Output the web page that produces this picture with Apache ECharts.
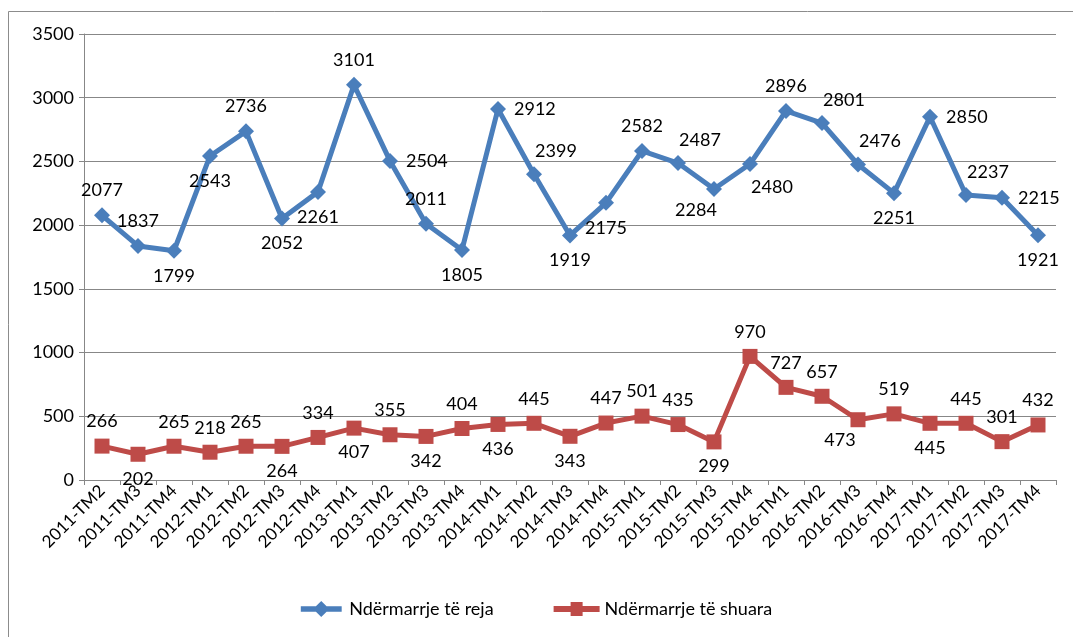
<!DOCTYPE html>
<html>
<head>
<meta charset="utf-8">
<script src="https://cdn.jsdelivr.net/npm/echarts@6/dist/echarts.min.js"></script>
<style>html,body{margin:0;padding:0;background:#fff}#c{width:1073px;height:637px}</style>
</head>
<body>
<div id="c"></div>
<script>
const categories = ['2011-TM2','2011-TM3','2011-TM4','2012-TM1','2012-TM2','2012-TM3','2012-TM4','2013-TM1','2013-TM2','2013-TM3','2013-TM4','2014-TM1','2014-TM2','2014-TM3','2014-TM4','2015-TM1','2015-TM2','2015-TM3','2015-TM4','2016-TM1','2016-TM2','2016-TM3','2016-TM4','2017-TM1','2017-TM2','2017-TM3','2017-TM4'];
const newFirms = [2077,1837,1799,2543,2736,2052,2261,3101,2504,2011,1805,2912,2399,1919,2175,2582,2487,2284,2480,2896,2801,2476,2251,2850,2237,2215,1921];
const closedFirms = [266,202,265,218,265,264,334,407,355,342,404,436,445,343,447,501,435,299,970,727,657,473,519,445,445,301,432];
const seriesNames = ['Ndërmarrje të reja','Ndërmarrje të shuara'];
const yTicks = {min:0, max:3500, interval:500};

// label placement (styling only)
const blueLabelPos = ['top','top','bottom','bottom','top','bottom','bottom','top','right','top','bottom','right','topright','bottom','bottom','top','topright','bottomleft','bottomright','top','topright','topright','bottom','right','topright','right','bottom'];
const redLabelPos = ['top','bottom','top','top','top','bottom','top','bottom','top','bottom','top','bottom','top','bottom','top','top','top','bottom','top','top','top','bottomleft','top','bottom','top','top','top'];

const FONT = 'Lato';
function labelFor(p){
  const base = {show:true, color:'#000', fontFamily:FONT, fontSize:18};
  switch(p){
    case 'top': return Object.assign(base,{position:'top', distance:8});
    case 'bottom': return Object.assign(base,{position:'bottom', distance:8});
    case 'right': return Object.assign(base,{position:'right', distance:8});
    case 'topright': return Object.assign(base,{position:'top', distance:6, offset:[22,0]});
    case 'bottomright': return Object.assign(base,{position:'bottom', distance:6, offset:[22,0]});
    case 'bottomleft': return Object.assign(base,{position:'bottom', distance:4, offset:[-18,0]});
  }
}
const blueData = newFirms.map((v,i)=>({value:v, label:labelFor(blueLabelPos[i])}));
const redData = closedFirms.map((v,i)=>({value:v, label:labelFor(redLabelPos[i])}));

const iconDiamondLine = 'path://M0,4 L17,4 L23,-2 L29,4 L46,4 L46,10 L29,10 L23,16 L17,10 L0,10 Z';
const iconSquareLine = 'path://M0,4 L17,4 L17,0 L29,0 L29,4 L46,4 L46,10 L29,10 L29,14 L17,14 L17,10 L0,10 Z';

const chart = echarts.init(document.getElementById('c'), null, {renderer:'canvas'});
chart.setOption({
  animation:false,
  backgroundColor:'#fff',
  graphic:[{type:'rect', shape:{x:8.5,y:11.5,width:1200,height:800}, style:{fill:'none', stroke:'#8c8c8c', lineWidth:1}, silent:true, z:-1}],
  grid:{left:84, right:17, top:34, bottom:157, containLabel:false},
  legend:{
    bottom:14, left:'center', itemGap:60, itemWidth:46, itemHeight:16,
    textStyle:{fontFamily:FONT, fontSize:18, color:'#000'},
    data:[{name:seriesNames[0], icon:iconDiamondLine},{name:seriesNames[1], icon:iconSquareLine}]
  },
  xAxis:{
    type:'category', data:categories, boundaryGap:true,
    axisLine:{lineStyle:{color:'#878787', width:1}},
    axisTick:{show:true, alignWithLabel:false, length:5, lineStyle:{color:'#878787'}},
    axisLabel:{rotate:45, interval:0, fontFamily:FONT, fontSize:17, color:'#000', margin:8}
  },
  yAxis:{
    type:'value', min:yTicks.min, max:yTicks.max, interval:yTicks.interval,
    axisLine:{show:true, lineStyle:{color:'#878787'}},
    axisTick:{show:true, length:5, lineStyle:{color:'#878787'}},
    splitLine:{lineStyle:{color:'#878787', width:1}},
    axisLabel:{fontFamily:FONT, fontSize:18, color:'#000', margin:10, formatter:(v)=>String(v)}
  },
  series:[
    {name:seriesNames[0], type:'line', data:blueData, color:'#4a7ebb',
     lineStyle:{width:5, color:'#4a7ebb'}, symbol:'diamond', symbolSize:16,
     itemStyle:{color:'#4a7ebb'}},
    {name:seriesNames[1], type:'line', data:redData, color:'#be4b48',
     lineStyle:{width:5, color:'#be4b48'}, symbol:'rect', symbolSize:15,
     itemStyle:{color:'#be4b48'}}
  ]
});
</script>
</body>
</html>
